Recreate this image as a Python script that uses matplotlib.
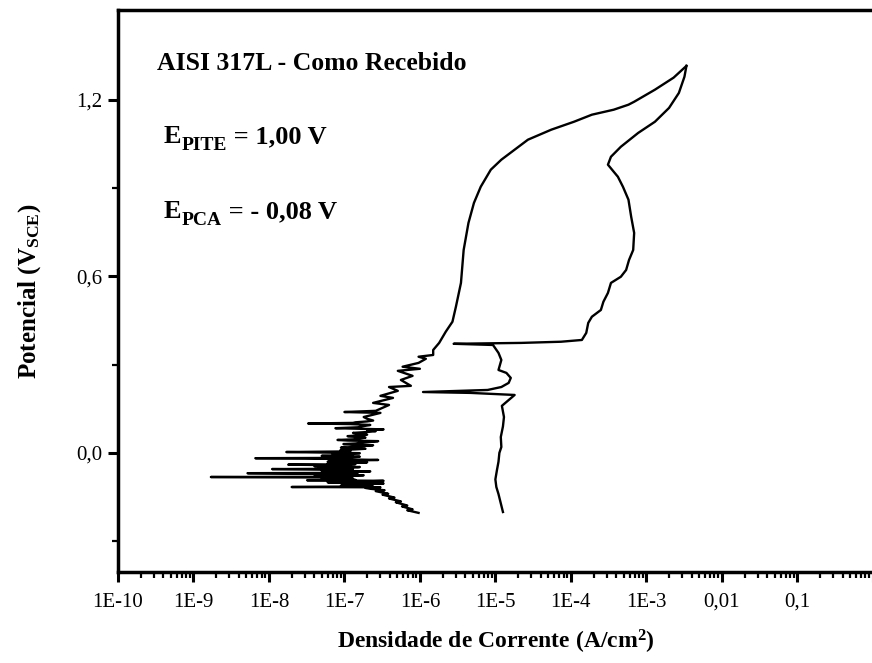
import numpy as np
import matplotlib
matplotlib.use("Agg")
import matplotlib.pyplot as plt
from matplotlib.ticker import FixedLocator, FixedFormatter, LogLocator, NullFormatter

plt.rcParams['font.family'] = ['Liberation Serif', 'DejaVu Serif']
plt.rcParams['mathtext.fontset'] = 'custom'
plt.rcParams['mathtext.rm'] = 'Liberation Serif'
plt.rcParams['mathtext.bf'] = 'Liberation Serif:bold'
plt.rcParams['mathtext.it'] = 'Liberation Serif:italic'

# Forward (anodic) scan: potential (V vs SCE) and current density (A/cm2)
fwd_potential = [
    -0.204, -0.195, -0.192, -0.182, -0.179, -0.168, -0.165, -0.155, -0.152, -0.142,
    -0.139, -0.130, -0.127, -0.122, -0.119, -0.117, -0.116, -0.114, -0.113, -0.111,
    -0.109, -0.107, -0.106, -0.104, -0.102, -0.100, -0.098, -0.096, -0.095, -0.093,
    -0.092, -0.091, -0.089, -0.088, -0.087, -0.085, -0.084, -0.082, -0.081, -0.080,
    -0.079, -0.078, -0.077, -0.076, -0.075, -0.074, -0.073, -0.072, -0.071, -0.069,
    -0.068, -0.067, -0.066, -0.065, -0.064, -0.063, -0.062, -0.061, -0.059, -0.058,
    -0.056, -0.055, -0.054, -0.053, -0.051, -0.050, -0.049, -0.048, -0.046, -0.045,
    -0.044, -0.043, -0.041, -0.040, -0.039, -0.038, -0.036, -0.035, -0.033, -0.032,
    -0.031, -0.030, -0.028, -0.027, -0.025, -0.024, -0.022, -0.021, -0.019, -0.018,
    -0.017, -0.016, -0.014, -0.013, -0.011, -0.010, -0.008, -0.007, -0.005, -0.004,
    -0.002, -0.001, 0.001, 0.003, 0.005, 0.006, 0.008, 0.010, 0.012, 0.014,
    0.016, 0.018, 0.020, 0.022, 0.024, 0.026, 0.028, 0.030, 0.032, 0.034,
    0.037, 0.040, 0.042, 0.044, 0.046, 0.048, 0.050, 0.052, 0.055, 0.057,
    0.060, 0.062, 0.065, 0.068, 0.071, 0.074, 0.077, 0.080, 0.082, 0.084,
    0.087, 0.090, 0.093, 0.095, 0.098, 0.100, 0.102, 0.104, 0.107, 0.110,
    0.116, 0.122, 0.136, 0.139, 0.143, 0.163, 0.170, 0.187, 0.194, 0.211,
    0.224, 0.228, 0.248, 0.262, 0.279, 0.286, 0.293, 0.306, 0.320, 0.327,
    0.333, 0.350, 0.374, 0.412, 0.446, 0.497, 0.578, 0.690, 0.782, 0.850,
    0.905, 0.963, 0.997, 1.031, 1.065, 1.099, 1.126, 1.150, 1.167, 1.184,
    1.194, 1.235, 1.276, 1.316,
]
fwd_current = [
    9.6e-7, 6.8e-7, 8.0e-7, 5.8e-7, 6.8e-7, 4.8e-7, 5.6e-7, 3.9e-7, 4.6e-7, 3.2e-7,
    3.8e-7, 2.6e-7, 3.4e-7, 2.2e-7, 1.9e-7, 3.0e-7, 2.0e-8, 2.4e-7, 1.6e-7, 9.0e-8,
    2.2e-7, 1.3e-7, 1.1e-7, 3.3e-7, 1.2e-7, 6.0e-8, 1.5e-7, 2.4e-7, 3.3e-7, 3.2e-8,
    1.4e-7, 1.2e-7, 5.0e-8, 1.1e-7, 1.3e-7, 6.5e-8, 9.7e-8, 1.7e-9, 1.2e-7, 1.0e-7,
    4.5e-8, 6.0e-8, 1.4e-7, 1.8e-7, 7.0e-8, 4.0e-8, 1.2e-7, 1.5e-7, 3.5e-8, 5.2e-9,
    1.0e-7, 1.2e-7, 5.5e-8, 7.0e-8, 1.6e-7, 2.2e-7, 8.0e-8, 5.0e-8, 1.3e-7, 1.1e-7,
    3.0e-8, 1.1e-8, 1.2e-7, 1.3e-7, 4.5e-8, 6.0e-8, 1.5e-7, 1.6e-7, 7.0e-8, 4.0e-8,
    1.1e-7, 1.2e-7, 4.0e-8, 1.8e-8, 1.2e-7, 1.4e-7, 6.0e-8, 8.0e-8, 1.7e-7, 2.0e-7,
    9.0e-8, 6.0e-8, 1.1e-7, 1.3e-7, 2.0e-7, 2.8e-7, 1.0e-7, 9.0e-8, 3.0e-8, 6.6e-9,
    1.1e-7, 1.0e-7, 1.4e-7, 1.6e-7, 7.0e-8, 5.0e-8, 1.2e-7, 1.3e-7, 8.0e-8, 7.0e-8,
    1.4e-7, 1.6e-7, 6.0e-8, 1.7e-8, 1.1e-7, 1.2e-7, 1.0e-7, 8.9e-8, 1.4e-7, 1.9e-7,
    1.1e-7, 9.0e-8, 1.3e-7, 1.5e-7, 1.9e-7, 2.4e-7, 1.2e-7, 9.7e-8, 1.4e-7, 1.6e-7,
    2.2e-7, 2.8e-7, 1.1e-7, 8.1e-8, 1.3e-7, 1.5e-7, 1.7e-7, 1.9e-7, 1.3e-7, 1.1e-7,
    1.7e-7, 2.0e-7, 1.5e-7, 1.3e-7, 2.0e-7, 2.6e-7, 2.0e-7, 3.3e-7, 1.6e-7, 7.6e-8,
    1.5e-7, 1.7e-7, 2.0e-7, 2.2e-7, 1.2e-7, 3.3e-8, 1.3e-7, 1.4e-7, 2.0e-7, 2.4e-7,
    2.0e-7, 1.8e-7, 3.0e-7, 1.0e-7, 2.6e-7, 3.9e-7, 2.4e-7, 4.4e-7, 3.0e-7, 5.1e-7,
    3.9e-7, 7.6e-7, 5.6e-7, 8.0e-7, 5.1e-7, 1.0e-6, 5.9e-7, 9.6e-7, 1.2e-6, 9.6e-7,
    1.5e-6, 1.5e-6, 1.8e-6, 2.2e-6, 2.7e-6, 3.0e-6, 3.5e-6, 3.8e-6, 4.4e-6, 5.2e-6,
    6.4e-6, 8.7e-6, 1.2e-5, 1.8e-5, 2.7e-5, 5.5e-5, 1.1e-4, 1.9e-4, 3.7e-4, 5.8e-4,
    6.9e-4, 1.3e-3, 2.3e-3, 3.4e-3,
]

# Reverse scan back from the vertex potential
rev_potential = [
    1.316, 1.279, 1.224, 1.173, 1.126, 1.088, 1.041, 1.007, 0.980, 0.956,
    0.939, 0.905, 0.861, 0.803, 0.748, 0.690, 0.656, 0.622, 0.599, 0.578,
    0.544, 0.514, 0.486, 0.463, 0.442, 0.408, 0.384, 0.378, 0.374, 0.371,
    0.367, 0.340, 0.316, 0.282, 0.272, 0.255, 0.238, 0.224, 0.214, 0.207,
    0.204, 0.197, 0.160, 0.122, 0.090, 0.054, 0.020, 0.000, -0.030, -0.058,
    -0.090, -0.116, -0.140, -0.160, -0.201,
]
rev_current = [
    3.4e-3, 3.2e-3, 2.7e-3, 2.0e-3, 1.3e-3, 7.8e-4, 4.6e-4, 3.4e-4, 3.1e-4, 3.7e-4,
    4.2e-4, 4.9e-4, 5.8e-4, 6.3e-4, 6.9e-4, 6.7e-4, 5.9e-4, 5.4e-4, 4.6e-4, 3.4e-4,
    3.1e-4, 2.7e-4, 2.5e-4, 1.9e-4, 1.7e-4, 1.6e-4, 1.4e-4, 7.4e-5, 2.2e-5, 2.8e-6,
    9.3e-6, 1.1e-5, 1.2e-5, 1.1e-5, 1.4e-5, 1.6e-5, 1.5e-5, 1.2e-5, 7.9e-6, 1.1e-6,
    4.7e-6, 1.8e-5, 1.22e-5, 1.3e-5, 1.26e-5, 1.18e-5, 1.2e-5, 1.13e-5, 1.1e-5, 1.05e-5,
    1.0e-5, 1.03e-5, 1.1e-5, 1.15e-5, 1.26e-5,
]

x_ticks = [1e-10, 1e-9, 1e-8, 1e-7, 1e-6, 1e-5, 1e-4, 1e-3, 1e-2, 1e-1, 1]
x_tick_labels = ["1E-10", "1E-9", "1E-8", "1E-7", "1E-6", "1E-5", "1E-4", "1E-3",
                 "0,01", "0,1", ""]
y_ticks = [0.0, 0.6, 1.2]
y_tick_labels = ["0,0", "0,6", "1,2"]
y_minor = [-0.3, 0.3, 0.9]

fig = plt.figure(figsize=(8.72, 6.63), dpi=100)
ax = fig.add_axes([118 / 872, 1 - 572 / 663, 1 - 118 / 872 + 0.002, (572 - 10) / 663])

ax.plot(fwd_current, fwd_potential, color='black', lw=1.7, solid_joinstyle='round')
ax.plot(rev_current, rev_potential, color='black', lw=1.7, solid_joinstyle='round')

ax.set_xscale('log')
ax.set_xlim(1e-10, 10 ** ((872 - 118) / 75.3 - 10))
ax.set_ylim(-0.405, 1.506)

ax.xaxis.set_major_locator(FixedLocator(x_ticks))
ax.xaxis.set_major_formatter(FixedFormatter(x_tick_labels))
ax.xaxis.set_minor_locator(LogLocator(base=10, subs=np.arange(2, 10), numticks=30))
ax.xaxis.set_minor_formatter(NullFormatter())
ax.yaxis.set_major_locator(FixedLocator(y_ticks))
ax.yaxis.set_major_formatter(FixedFormatter(y_tick_labels))
ax.yaxis.set_minor_locator(FixedLocator(y_minor))

for s in ['left', 'bottom', 'top']:
    ax.spines[s].set_linewidth(2.5)
ax.spines['right'].set_visible(False)

ax.tick_params(axis='both', which='major', direction='out', length=7, width=2.2,
               labelsize=15, colors='black', pad=4)
ax.tick_params(axis='both', which='minor', direction='out', length=4, width=1.6)
ax.tick_params(axis='x', which='major', pad=8)

ax.set_xlabel(r"Densidade de Corrente (A/cm$^{\mathbf{2}}$)", fontsize=17,
              fontweight='bold', va='center')
ax.xaxis.set_label_coords(0.5, -0.125)
ax.set_ylabel(r"Potencial (V$_{\mathbf{SCE}}$)", fontsize=18, fontweight='bold',
              va='center')
ax.yaxis.set_label_coords(-0.117, 0.5)

ax.text(0.052, 0.893, "AISI 317L - Como Recebido", transform=ax.transAxes,
        fontsize=18.5, fontweight='bold', va='baseline', ha='left')


def subscripted(x, y, main, sub, rest):
    t1 = ax.text(x, y, main, transform=ax.transAxes, fontsize=19,
                 fontweight='bold', va='baseline', ha='left')
    t2 = ax.annotate(sub, xy=(1, 0), xycoords=t1, xytext=(0.5, -4.5),
                     textcoords='offset points', fontsize=14, fontweight='bold',
                     va='bottom', ha='left')
    ax.annotate(rest, xy=(1, 0), xycoords=t2, xytext=(0, 4.5),
                textcoords='offset points', fontsize=19, fontweight='bold',
                va='bottom', ha='left')


subscripted(0.060, 0.763, "E", "PITE", " = 1,00 V")
subscripted(0.060, 0.630, "E", "PCA", " = - 0,08 V")

fig.savefig("out.png", dpi=100)
